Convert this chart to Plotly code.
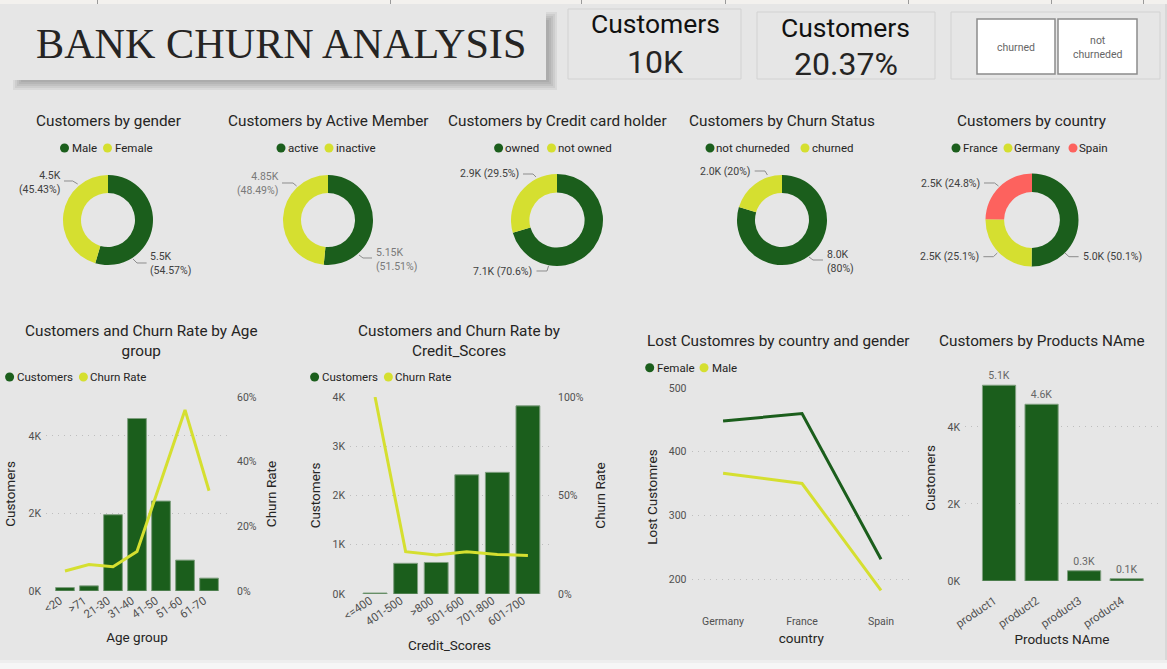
import plotly.graph_objects as go

W, H = 1167, 669
GREEN, YELLOW, RED = "#1B5E1C", "#D5DF30", "#FD625E"
BG = "#E6E6E6"
FONT = "Roboto"
TICK = "#505050"
DARK = "#252423"

gender_labels = ["Male", "Female"]
gender_values = [5457, 4543]
gender_text = ["5.5K<br>(54.57%)", "4.5K<br>(45.43%)"]
active_labels = ["active", "inactive"]
active_values = [5151, 4849]
active_text = ["5.15K<br>(51.51%)", "4.85K<br>(48.49%)"]
card_labels = ["owned", "not owned"]
card_values = [7055, 2945]
card_text = ["7.1K (70.6%)", "2.9K (29.5%)"]
churn_labels = ["not churneded", "churned"]
churn_values = [7963, 2037]
churn_text = ["8.0K<br>(80%)", "2.0K (20%)"]
country_labels = ["France", "Germany", "Spain"]
country_values = [5014, 2509, 2477]
country_text = ["5.0K (50.1%)", "2.5K (25.1%)", "2.5K (24.8%)"]

age_groups = ["<20", ">71", "21-30", "31-40", "41-50", "51-60", "61-70"]
age_customers = [89, 133, 1968, 4451, 2320, 797, 331]
age_churn = [6.2, 8.2, 7.5, 12.2, 34, 56, 31]

credit_groups = ["<=400", "401-500", ">800", "501-600", "701-800", "601-700"]
credit_customers = [20, 623, 640, 2420, 2470, 3820]
credit_churn = [100, 21.5, 19.8, 21.5, 20.1, 19.6]

lost_countries = ["Germany", "France", "Spain"]
lost_female = [448, 460, 231]
lost_male = [366, 350, 182]

product_names = ["product1", "product2", "product3", "product4"]
product_customers = [5084, 4590, 266, 60]


def fx(x):
    return x / W


def fy(y):
    return 1 - y / H


fig = go.Figure()
shapes, annotations = [], []


def note(x, y, text, size=10.5, color=TICK, anchor="center", family=FONT, angle=0):
    annotations.append(dict(x=fx(x), y=fy(y), xref="paper", yref="paper", text=text, showarrow=False,
                            xanchor=anchor, yanchor="middle", align=anchor if anchor != "center" else "center",
                            font=dict(family=family, size=size, color=color), textangle=angle,
                            borderpad=0, borderwidth=0))


def rect(x0, y0, x1, y1, fill, line=None, lw=1, layer="below"):
    shapes.append(dict(type="rect", xref="paper", yref="paper", x0=fx(x0), x1=fx(x1), y0=fy(y0), y1=fy(y1),
                       fillcolor=fill, line=dict(color=line or "rgba(0,0,0,0)", width=lw if line else 0), layer=layer))


def dot(x, y, color):
    shapes.append(dict(type="circle", xref="paper", yref="paper", x0=fx(x - 4.5), x1=fx(x + 4.5),
                       y0=fy(y + 4.5), y1=fy(y - 4.5), fillcolor=color, line=dict(width=0), layer="above"))


def legend(y, items):
    for name, color, dx, tx in items:
        dot(dx, y, color)
        note(tx, y, name, size=11.5, color=DARK, anchor="left")


def leader(points):
    path = "M" + " L".join(f"{fx(a):.5f},{fy(b):.5f}" for a, b in points)
    shapes.append(dict(type="path", xref="paper", yref="paper", path=path, line=dict(color="#8C8C8C", width=1)))


def donut(name, labels, values, colors, cx, cy, d):
    fig.add_trace(go.Pie(name=name, labels=labels, values=values, hole=0.6, sort=False, direction="clockwise",
                         rotation=0, textinfo="none", showlegend=False,
                         marker=dict(colors=colors, line=dict(width=0)),
                         domain=dict(x=[fx(cx - d / 2), fx(cx + d / 2)], y=[fy(cy + d / 2), fy(cy - d / 2)])))


# page furniture
rect(0, 0, W, 4, "#F3F1EE")
rect(0, 660, W, 663, "#EEEEEE")
rect(0, 663, W, H, "#F6F6F6")
rect(1165, 4, W, 660, "#D8D8D8")
for s in [97, 390, 581, 725, 908, 1051, 1143]:
    rect(s, 0, s + 1, 4, "#9A9A9A")

# header
for s in [5, 3, 1, -1, -3]:
    rect(18 - s, 17 - s, 552 + s, 85 + s, "rgba(0,0,0,0.055)")
rect(12, 11, 546, 80, BG)
note(281, 43, "BANK CHURN ANALYSIS", size=42.2, color=DARK, family="Liberation Serif")
rect(568, 9, 741, 79, BG, "#D2D2D2", 1)
rect(757, 12, 935, 79, BG, "#D2D2D2", 1)
rect(951, 12, 1160, 79, BG, "#D2D2D2", 1)
note(655, 24, "Customers", size=26.5, color="#111111")
note(655, 62, "10K", size=32, color=DARK)
note(846, 28, "Customers", size=26.5, color="#111111")
note(846, 64, "20.37%", size=32, color=DARK)
rect(977, 19, 1055, 74, "#FFFFFF", "#8C8C8C", 1.5)
rect(1058, 19, 1137, 74, "#FFFFFF", "#8C8C8C", 1.5)
note(1015.5, 47, "churned", size=10.5, color="#666666")
note(1097, 47, "not<br>churneded", size=10.5, color="#666666")

# donuts
donut("Customers by gender", gender_labels, gender_values, [GREEN, YELLOW], 108, 220, 90)
donut("Customers by Active Member", active_labels, active_values, [GREEN, YELLOW], 328, 220, 90)
donut("Customers by Credit card holder", card_labels, card_values, [GREEN, YELLOW], 557, 220, 92)
donut("Customers by Churn Status", churn_labels, churn_values, [GREEN, YELLOW], 782, 220, 90)
donut("Customers by country", country_labels, country_values, [GREEN, YELLOW, RED], 1032, 220, 93)

TS = 15.3
note(108, 121, "Customers by gender", size=TS, color=DARK)
note(328, 121, "Customers by Active Member", size=TS, color=DARK)
note(557, 121, "Customers by Credit card holder", size=TS, color=DARK)
note(782, 121, "Customers by Churn Status", size=TS, color=DARK)
note(1032, 121, "Customers by country", size=TS, color=DARK)

legend(148, [(gender_labels[0], GREEN, 64.5, 72), (gender_labels[1], YELLOW, 107.5, 115)])
legend(148, [(active_labels[0], GREEN, 281, 288), (active_labels[1], YELLOW, 329, 336)])
legend(148, [(card_labels[0], GREEN, 498.6, 505), (card_labels[1], YELLOW, 551.5, 558)])
legend(148, [(churn_labels[0], GREEN, 710, 716), (churn_labels[1], YELLOW, 805, 811.5)])
legend(148, [(country_labels[0], GREEN, 956, 962.5), (country_labels[1], YELLOW, 1008, 1014), (country_labels[2], RED, 1073, 1079)])

note(60.5, 182, gender_text[1], anchor="right", color="#404040")
note(150, 263.5, gender_text[0], anchor="left", color="#404040")
note(278.6, 183.5, active_text[1], anchor="right", color="#7A7A7A")
note(376, 259, active_text[0], anchor="left", color="#7A7A7A")
note(519, 174, card_text[1], anchor="right", color="#404040")
note(532, 271, card_text[0], anchor="right", color="#404040")
note(750.8, 172, churn_text[1], anchor="right", color="#404040")
note(826.6, 261.5, churn_text[0], anchor="left", color="#404040")
note(980, 183, country_text[2], anchor="right", color="#404040")
note(979, 257, country_text[1], anchor="right", color="#404040")
note(1083, 257, country_text[0], anchor="left", color="#404040")

for pts in [
    [(64, 181), (72.7, 181), (77.7, 184)], [(133, 259), (137, 263), (146.6, 263)],
    [(282, 183), (293, 183), (296.6, 186)], [(359, 255), (363, 258), (372, 258)],
    [(523, 174), (533, 174), (536, 177)], [(536.5, 271), (547, 271), (548.5, 266)],
    [(754.7, 171), (765, 171), (767.4, 175)], [(809, 257), (813, 260), (823, 260)],
    [(984, 183), (994.6, 183), (998.5, 186)], [(983.4, 256.7), (993.4, 256.7), (997.3, 253)],
    [(1065, 253), (1069, 256.7), (1078.6, 256.7)],
]:
    leader(pts)

GRID = dict(showgrid=True, gridcolor="#BEBEBE", griddash="1px,5px", gridwidth=1, zeroline=False, showline=False)
tfont = dict(family=FONT, size=10.5, color=TICK)
rotfont = dict(family=FONT, size=11.5, color=TICK)
ttl = dict(family=FONT, size=13.5, color=DARK)


def xaxis(x0, x1, rng, title, standoff, angle=-34, label_gap=0, shift=-5, font=rotfont):
    return dict(domain=[fx(x0), fx(x1)], type="category", range=rng, showgrid=False, zeroline=False, showline=False,
                tickangle=angle, tickfont=font, ticks="", automargin=False, ticklabelstandoff=label_gap,
                ticklabelshift=shift, title=dict(text=title, font=ttl, standoff=standoff))


def yaxis(y0, y1, rng, ticks, text, title, standoff, anchor, **kw):
    d = dict(domain=[fy(y1), fy(y0)], range=rng, tickvals=ticks, ticktext=text, tickfont=tfont, ticks="",
             automargin=False, anchor=anchor, title=dict(text=title, font=ttl, standoff=standoff), **GRID)
    d.update(kw)
    return d


def bar(x, y, xa, ya, text=None):
    return go.Bar(x=x, y=y, xaxis=xa, yaxis=ya, marker=dict(color=GREEN, line=dict(color="#7F9F7F", width=1)),
                  showlegend=False, name="Customers", text=text, textposition="outside" if text else None,
                  textfont=dict(family=FONT, size=10.5, color="#666666"), cliponaxis=False)


def line(x, y, xa, ya, color, name):
    return go.Scatter(x=x, y=y, xaxis=xa, yaxis=ya, mode="lines", line=dict(color=color, width=3),
                      showlegend=False, name=name, cliponaxis=False)


K = lambda vals: [f"{v // 1000}K" for v in vals]

# Age chart
fig.add_trace(bar(age_groups, age_customers, "x", "y"))
fig.add_trace(line(age_groups, age_churn, "x", "y2", YELLOW, "Churn Rate"))
note(141, 341, "Customers and Churn Rate by Age<br>group", size=TS, color=DARK)
legend(377, [("Customers", GREEN, 9.6, 17), ("Churn Rate", YELLOW, 83.4, 90)])

# Credit chart
fig.add_trace(bar(credit_groups, credit_customers, "x2", "y3"))
fig.add_trace(line(credit_groups, credit_churn, "x2", "y4", YELLOW, "Churn Rate"))
note(459, 341, "Customers and Churn Rate by<br>Credit_Scores", size=TS, color=DARK)
legend(377, [("Customers", GREEN, 314.6, 321.5), ("Churn Rate", YELLOW, 388.4, 395)])

# Lost customers chart
fig.add_trace(line(lost_countries, lost_female, "x3", "y5", GREEN, "Female"))
fig.add_trace(line(lost_countries, lost_male, "x3", "y5", YELLOW, "Male"))
note(778.6, 341, "Lost Customres by country and gender", size=TS, color=DARK)
legend(367.7, [("Female", GREEN, 649.7, 657), ("Male", YELLOW, 704, 712)])

# Products chart
fig.add_trace(bar(product_names, product_customers, "x4", "y6", [f"{v / 1000:.1f}K" for v in product_customers]))
note(1041.5, 341, "Customers by Products NAme", size=TS, color=DARK)

pct = lambda vals: [f"{v}%" for v in vals]

fig.update_layout(
    width=W, height=H, autosize=False, margin=dict(l=0, r=0, t=0, b=0), paper_bgcolor=BG, plot_bgcolor="rgba(0,0,0,0)",
    font=dict(family=FONT), bargap=0.22, shapes=shapes, annotations=annotations, showlegend=False,
    xaxis=xaxis(46, 228, [-0.79, 6.79], "Age group", 12),
    yaxis=yaxis(397, 591, [0, 5006], [0, 2000, 4000], K([0, 2000, 4000]), "Customers", 9, "x", ticklabelstandoff=4),
    yaxis2=yaxis(397, 591, [0, 60], [0, 20, 40, 60], pct([0, 20, 40, 60]), "Churn Rate", 10, "x",
                 overlaying="y", side="right", ticklabelstandoff=8, showgrid=False),
    xaxis2=xaxis(350, 549, [-0.82, 5.69], "Credit_Scores", 13),
    yaxis3=yaxis(397, 594, [0, 4000], [0, 1000, 2000, 3000, 4000], K([0, 1000, 2000, 3000, 4000]), "Customers", 8, "x2",
                 ticklabelstandoff=4),
    yaxis4=yaxis(397, 594, [0, 100], [0, 50, 100], pct([0, 50, 100]), "Churn Rate", 12, "x2",
                 overlaying="y3", side="right", ticklabelstandoff=8, showgrid=False),
    xaxis3=xaxis(691.5, 911, [-0.4, 2.38], "country", 7, angle=0, label_gap=22, shift=0, font=tfont),
    yaxis5=yaxis(388, 606, [157.6, 500], [200, 300, 400, 500], ["200", "300", "400", "500"], "Lost Customres", 8, "x3",
                 ticklabelstandoff=4),
    xaxis4=xaxis(965, 1159, [-0.8, 3.76], "Products NAme", 3),
    yaxis6=yaxis(375, 581, [0, 5350], [0, 2000, 4000], K([0, 2000, 4000]), "Customers", 8, "x4", ticklabelstandoff=4),
)

fig.write_html("out.html", config=dict(displayModeBar=False),
               post_script="document.body.style.margin='0';document.body.style.overflow='hidden';")
